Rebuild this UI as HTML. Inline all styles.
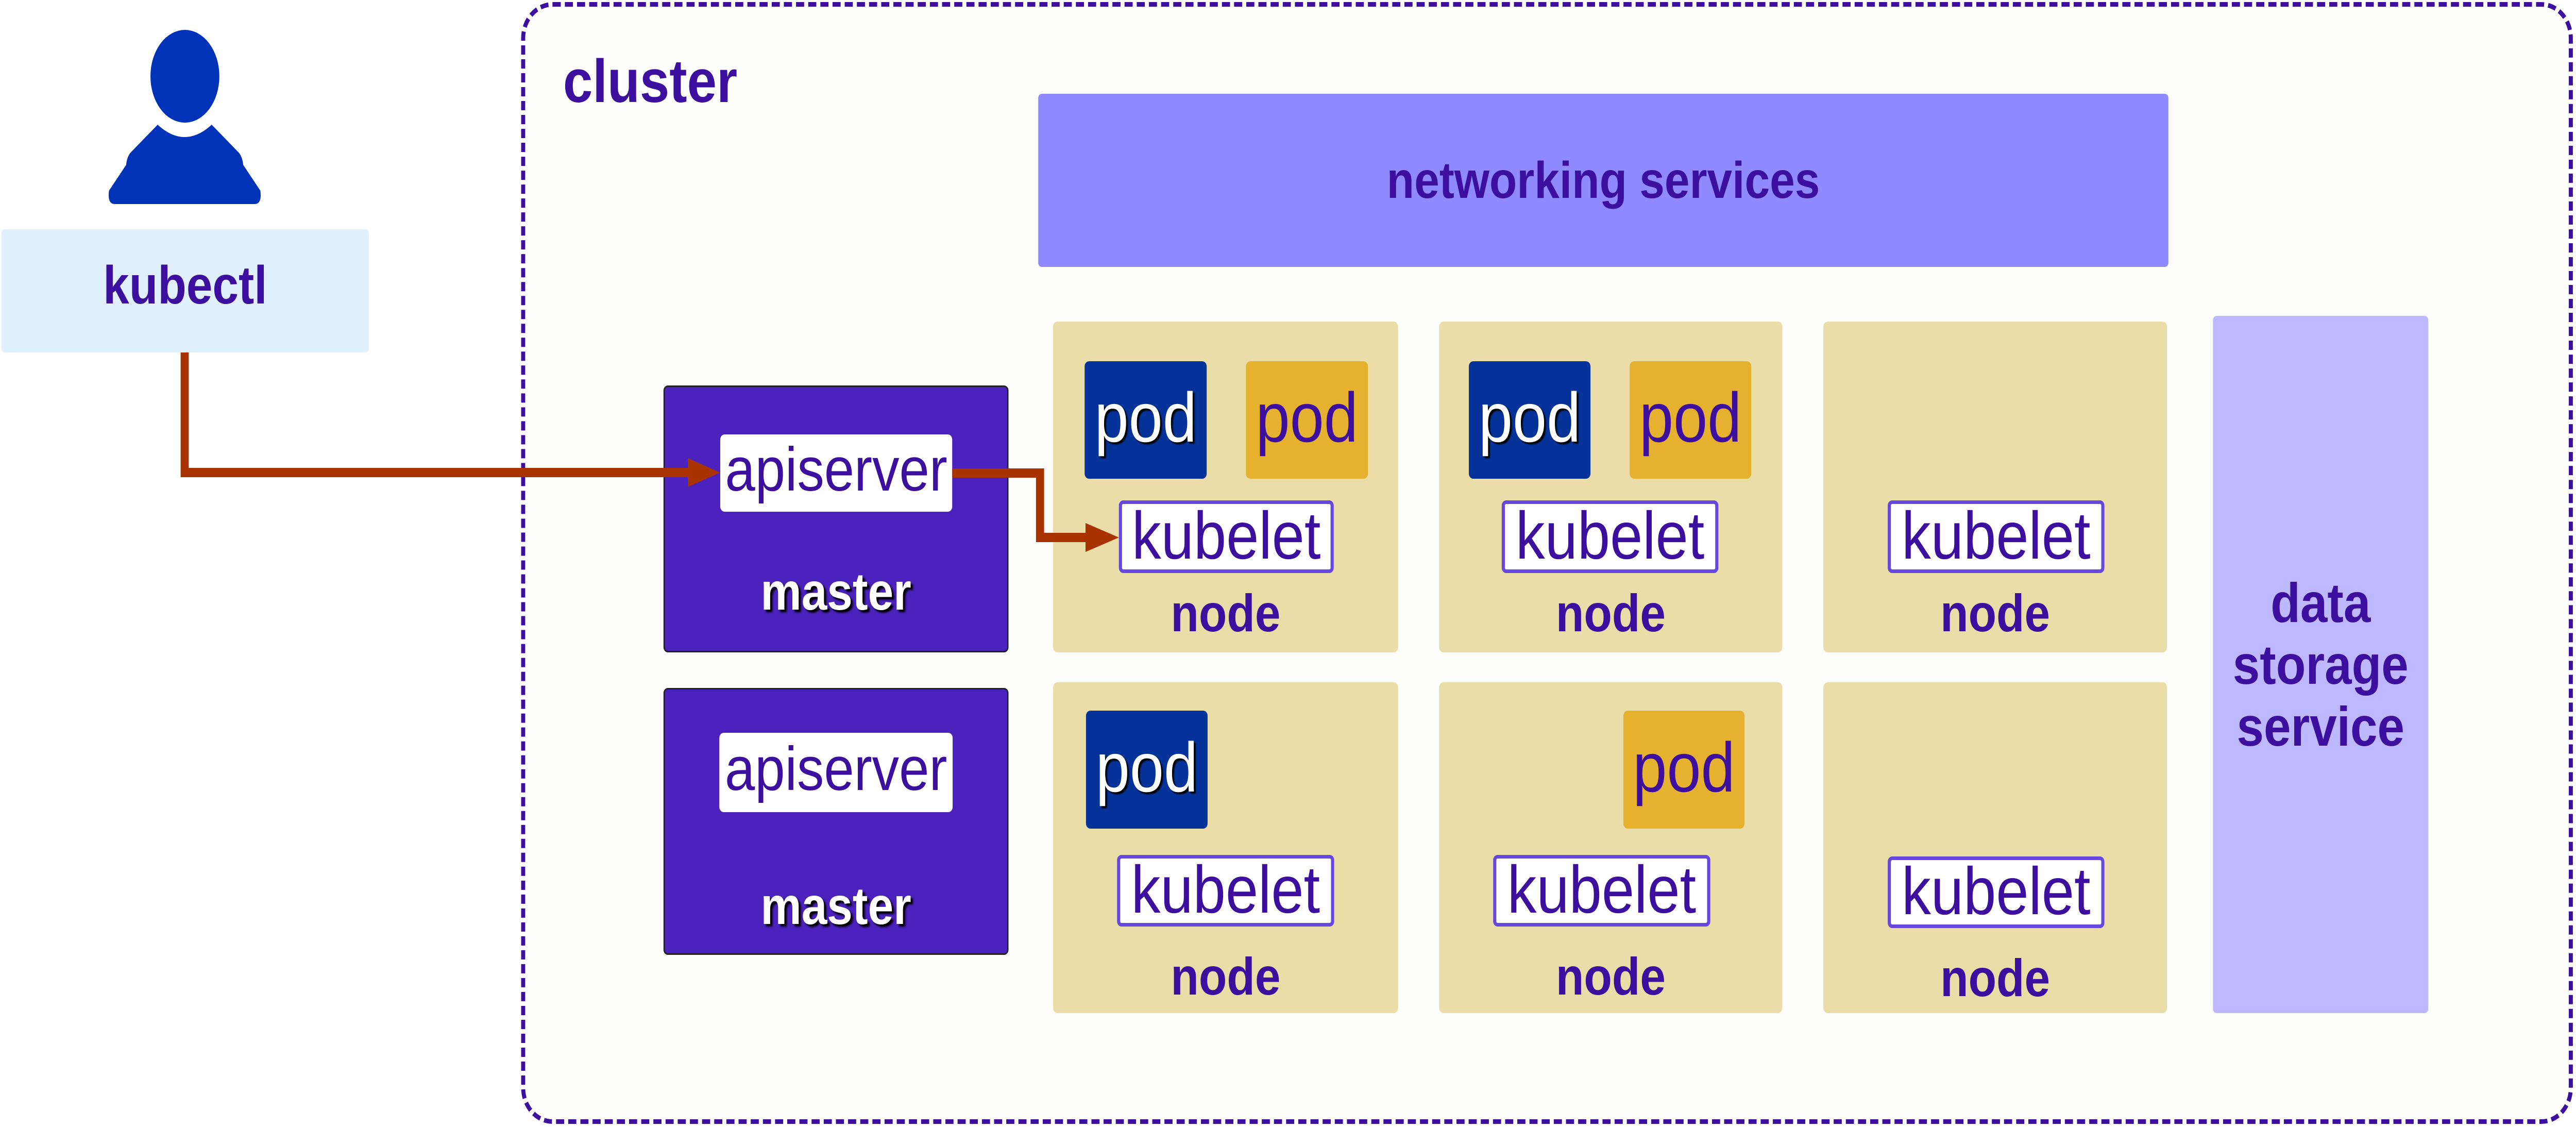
<!DOCTYPE html>
<html><head><meta charset="utf-8"><style>
html,body{margin:0;padding:0;width:100%;height:100%;overflow:hidden;background:#fff}
#root{position:relative;width:5719px;height:2187px;background:#fff;overflow:hidden;font-family:"Liberation Sans",sans-serif}
.a{position:absolute;box-sizing:border-box;display:block}
.c{display:flex;align-items:center;justify-content:center;white-space:nowrap}
.node{background:#ebdda7;border-radius:10px}
.pod{border-radius:10px;font-size:136px;padding-bottom:10px}
.pb{background:#063399;color:#fff;text-shadow:4px 4px 3px #000}
.py{background:#e5b12e;color:#3d0f9f}
.kub{background:#fff;border:7px solid #6648e0;border-radius:10px;color:#3d0f9f;font-size:130px;padding-bottom:6px}
.nt{color:#3d0f9f;font-weight:bold;font-size:102px;text-align:center}
.mas{background:#4b22bd;border:3px solid #222;border-radius:10px}
.api{background:#fff;border-radius:10px;color:#3d0f9f;font-size:120px;padding-bottom:14px}
.mt{color:#fff;font-weight:bold;font-size:102px;text-shadow:5px 5px 4px #000;text-align:center}
</style></head><body>
<svg style="position:fixed;left:0;top:0;width:100vw;height:100vh;display:block" viewBox="0 0 5719 2187" preserveAspectRatio="none">
<foreignObject x="0" y="0" width="5719" height="2187">
<div xmlns="http://www.w3.org/1999/xhtml" id="root">
<div class="a" style="left:1157px;top:4px;width:4555px;height:2177px;border:9px dashed #3d0f9f;border-radius:70px;background:#fdfdfb"></div>
<div class="a" style="left:1250px;top:90px;color:#3d0f9f;font-weight:bold;font-size:118px">cluster</div>
<div class="a" style="left:334px;top:58px;width:153px;height:180px;background:#0033b8;border-radius:50%"></div>
<svg class="a" style="left:0;top:0" width="800" height="420"><path d="M350 242 Q410 290 470 242 L530 296 Q538 304 540 320 L578 370 Q582 396 565 396 L255 396 Q238 396 242 370 L280 320 Q282 304 290 296 Z" fill="#0033b8"/></svg>
<div class="a c" style="left:3px;top:445px;width:816px;height:239px;background:#e1f0fe;border-radius:8px;color:#3d0f9f;font-weight:bold;font-size:104px;padding-bottom:20px">kubectl</div>
<div class="a c" style="left:2305px;top:182px;width:2509px;height:336px;background:#8f8aff;border-radius:8px;color:#3d0f9f;font-weight:bold;font-size:100px">networking services</div>
<div class="a mas" style="left:1473px;top:748px;width:766px;height:518px"></div>
<div class="a mas" style="left:1473px;top:1335px;width:766px;height:518px"></div>
<div class="a c api" style="left:1599px;top:843px;width:515px;height:150px">apiserver</div>
<div class="a c api" style="left:1597px;top:1422px;width:518px;height:154px">apiserver</div>
<div class="a mt" style="left:1473px;top:1090px;width:766px">master</div>
<div class="a mt" style="left:1473px;top:1700px;width:766px">master</div>
<div class="a node" style="left:2338px;top:624px;width:766px;height:642px"></div>
<div class="a node" style="left:3195px;top:624px;width:762px;height:642px"></div>
<div class="a node" style="left:4048px;top:624px;width:763px;height:642px"></div>
<div class="a node" style="left:2338px;top:1324px;width:766px;height:642px"></div>
<div class="a node" style="left:3195px;top:1324px;width:762px;height:642px"></div>
<div class="a node" style="left:4048px;top:1324px;width:763px;height:642px"></div>
<div class="a c pod pb" style="left:2408px;top:701px;width:271px;height:228px">pod</div>
<div class="a c pod py" style="left:2766px;top:701px;width:271px;height:228px">pod</div>
<div class="a c pod pb" style="left:3261px;top:701px;width:270px;height:228px">pod</div>
<div class="a c pod py" style="left:3618px;top:701px;width:270px;height:228px">pod</div>
<div class="a c pod pb" style="left:2411px;top:1379px;width:270px;height:229px">pod</div>
<div class="a c pod py" style="left:3604px;top:1379px;width:269px;height:229px">pod</div>
<div class="a c kub" style="left:2484px;top:971px;width:477px;height:141px">kubelet</div>
<div class="a c kub" style="left:3334px;top:971px;width:481px;height:141px">kubelet</div>
<div class="a c kub" style="left:4191px;top:971px;width:481px;height:141px">kubelet</div>
<div class="a c kub" style="left:2480px;top:1659px;width:482px;height:139px">kubelet</div>
<div class="a c kub" style="left:3315px;top:1659px;width:482px;height:139px">kubelet</div>
<div class="a c kub" style="left:4191px;top:1662px;width:481px;height:139px">kubelet</div>
<div class="a nt" style="left:2338px;top:1132px;width:766px">node</div>
<div class="a nt" style="left:3195px;top:1132px;width:762px">node</div>
<div class="a nt" style="left:4048px;top:1132px;width:763px">node</div>
<div class="a nt" style="left:2338px;top:1837px;width:766px">node</div>
<div class="a nt" style="left:3195px;top:1837px;width:762px">node</div>
<div class="a nt" style="left:4048px;top:1840px;width:763px">node</div>
<div class="a c" style="left:4913px;top:613px;width:478px;height:1353px;background:#bdb8ff;border-radius:8px;color:#3d0f9f;font-weight:bold;font-size:108px;text-align:center;line-height:120px">data<br/>storage<br/>service</div>
<svg class="a" style="left:0;top:0" width="2600" height="1200">
<polyline points="410,684 410,917 1530,917" fill="none" stroke="#a83300" stroke-width="18"/>
<polygon points="1527,889 1599,917 1527,945" fill="#a83300"/>
<polyline points="2114,918 2309,918 2309,1043 2412,1043" fill="none" stroke="#a83300" stroke-width="18"/>
<polygon points="2410,1015 2484,1043 2410,1071" fill="#a83300"/>
</svg>
</div>
</foreignObject>
</svg>
</body></html>
